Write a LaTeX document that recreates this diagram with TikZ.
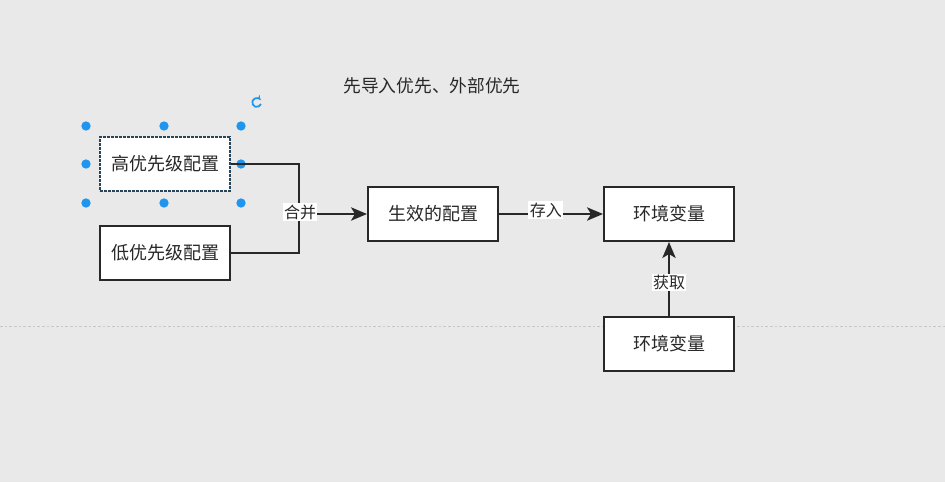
\documentclass[tikz,border=0pt]{standalone}
\usepackage{fontspec}
\newfontfamily\cjk{Noto Sans CJK SC}
\usetikzlibrary{arrows.meta, positioning}
\definecolor{canvasgray}{RGB}{233,233,233}
\definecolor{pagegray}{RGB}{200,200,200}
\definecolor{handleblue}{RGB}{30,150,240}
\definecolor{textgray}{RGB}{40,40,40}
\definecolor{selectline}{RGB}{40,70,90}

\begin{document}
\begin{tikzpicture}[
    x=0.75pt, y=-0.75pt,
    box/.style={rectangle, draw=textgray, line width=1.5pt, fill=white,
                minimum height=40.5pt, minimum width=97.5pt, align=center,
                font=\cjk\fontsize{13.5}{16}\selectfont, text=textgray},
    arr/.style={-{Stealth[length=12pt, width=10pt, inset=3pt]}, line width=1.5pt, textgray},
    wire/.style={line width=1.5pt, textgray},
    tag/.style={fill=white, inner sep=1pt, font=\cjk\fontsize{12}{14}\selectfont, text=textgray},
    handle/.style={circle, fill=handleblue, inner sep=0pt, minimum size=7pt},
]
    % canvas and page break
    \fill[canvasgray] (0,0) rectangle (945,482);
    \useasboundingbox (0,0) rectangle (945,482);
    \draw[pagegray, dash pattern=on 2pt off 1.5pt] (0,326) -- (945,326);

    \node[font=\cjk\fontsize{13.3}{16}\selectfont, text=textgray] (title) at (432,86) {先导入优先、外部优先};

    % boxes
    \node[box, draw=selectline, dash pattern=on 2pt off 1pt, line width=1pt] (high) at (165,164) {高优先级配置};
    \node[box] (low)  at (165,253) {低优先级配置};
    \node[box] (eff)  at (433,214) {生效的配置};
    \node[box] (env)  at (669,214) {环境变量};
    \node[box] (src)  at (669,344) {环境变量};

    % selection handles
    \foreach \hx/\hy in {86/126, 164/126, 241/126, 86/164, 241/164, 86/203, 164/203, 241/203}
        \node[handle] at (\hx,\hy) {};
    \draw[handleblue, line width=1.3pt, -{Stealth[length=3pt, width=4pt]}] (261,104) arc[start angle=20, end angle=320, radius=4.5];

    % connectors
    \coordinate (merge) at (299,214);
    \draw[wire] (high.east) -| (merge);
    \draw[wire] (low.east) -| (merge);
    \draw[arr] (merge) -- (eff.west);
    \node[tag] (mergetag) at (300,212) {合并};
    \draw[arr] (eff.east) -- (env.west) node[tag, pos=0.45, yshift=3pt] {存入};
    \draw[arr] (src.north) -- (env.south) node[tag, pos=0.45] {获取};
\end{tikzpicture}
\end{document}
